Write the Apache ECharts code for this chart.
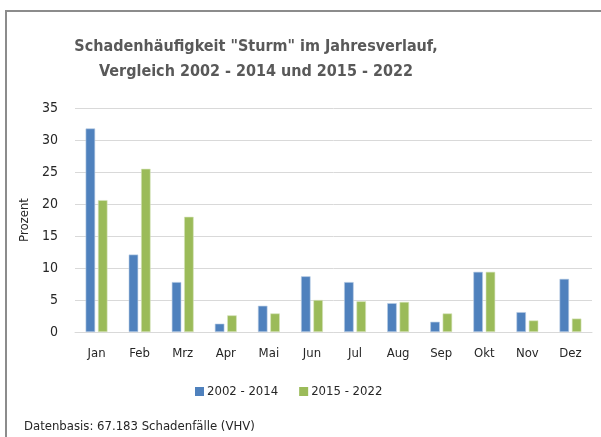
<!DOCTYPE html>
<html lang="de">
<head>
<meta charset="utf-8">
<title>Schadenhäufigkeit Sturm</title>
<script src="https://cdn.jsdelivr.net/npm/echarts@6/dist/echarts.min.js"></script>
<style>
  html, body { margin: 0; padding: 0; background: #fff; }
  #main { width: 601px; height: 437px; }
</style>
</head>
<body>
<div id="main"></div>
<script>
// Monate und Anteile (Prozent)
var months = ['Jan', 'Feb', 'Mrz', 'Apr', 'Mai', 'Jun', 'Jul', 'Aug', 'Sep', 'Okt', 'Nov', 'Dez'];
var period1 = [31.8, 12.1, 7.8, 1.3, 4.1, 8.7, 7.8, 4.5, 1.6, 9.4, 3.1, 8.3];
var period2 = [20.6, 25.5, 18.0, 2.6, 2.9, 5.0, 4.8, 4.7, 2.9, 9.4, 1.8, 2.1];
var seriesNames = ['2002 - 2014', '2015 - 2022'];

var font = '"DejaVu Sans Condensed", "Liberation Sans", sans-serif';

var chart = echarts.init(document.getElementById('main'));
chart.setOption({
  animation: false,
  color: ['#4F81BD', '#9BBB59'],
  textStyle: { fontFamily: font },
  title: {
    text: 'Schadenhäufigkeit "Sturm" im Jahresverlauf,\nVergleich 2002 - 2014 und 2015 - 2022',
    left: 251,
    top: 29,
    textAlign: 'center',
    textStyle: { fontSize: 16, fontWeight: 'bold', color: '#595959', lineHeight: 25, fontFamily: font }
  },
  legend: {
    data: seriesNames,
    bottom: 34,
    left: 190,
    itemWidth: 9,
    itemHeight: 9,
    itemGap: 21,
    icon: 'rect',
    itemStyle: { borderWidth: 0 },
    textStyle: { fontSize: 13, color: '#262626', fontFamily: font, padding: [0, 0, 0, -2] }
  },
  grid: { left: 75, right: 9, top: 108, bottom: 105 },
  xAxis: {
    type: 'category',
    data: months,
    axisLine: { lineStyle: { color: '#d9d9d9' } },
    axisTick: { show: false },
    axisLabel: { fontSize: 13, color: '#262626', margin: 15, fontFamily: font }
  },
  yAxis: {
    type: 'value',
    min: 0,
    max: 35,
    interval: 5,
    name: 'Prozent',
    nameLocation: 'middle',
    nameGap: 38,
    nameRotate: 90,
    nameTextStyle: { fontSize: 13, color: '#262626', fontFamily: font },
    axisLine: { show: false },
    axisTick: { show: false },
    axisLabel: { fontSize: 14, color: '#262626', margin: 17, fontFamily: font },
    splitLine: { lineStyle: { color: '#d9d9d9' } }
  },
  series: [
    {
      name: seriesNames[0],
      type: 'bar',
      data: period1,
      barWidth: 9.5,
      barGap: '30%',
      itemStyle: { borderColor: '#b8cce4', borderWidth: 0.6 }
    },
    {
      name: seriesNames[1],
      type: 'bar',
      data: period2,
      barWidth: 9.5,
      itemStyle: { borderColor: '#d7e4bd', borderWidth: 0.6 }
    }
  ],
  graphic: [
    {
      type: 'rect',
      shape: { x: 6, y: 11, width: 700, height: 500 },
      style: { fill: 'none', stroke: '#8c8c8c', lineWidth: 2 },
      silent: true
    },
    {
      type: 'text',
      left: 24,
      top: 420,
      style: { text: 'Datenbasis: 67.183 Schadenfälle (VHV)', fontSize: 13, fill: '#262626', fontFamily: font }
    }
  ]
});
</script>
</body>
</html>
